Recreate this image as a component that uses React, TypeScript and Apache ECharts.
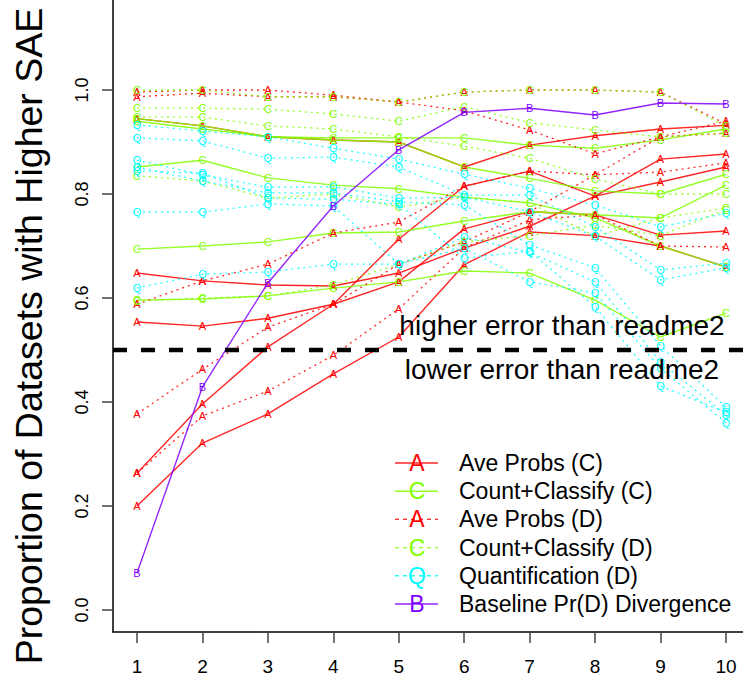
import React, { useEffect, useRef } from "react";
import * as echarts from "echarts";

const X_VALUES = [1, 2, 3, 4, 5, 6, 7, 8, 9, 10];
const Y_TICKS = [0, 0.2, 0.4, 0.6, 0.8, 1.0];

const AVE_PROBS_C = [
  [0.945, 0.931, 0.91, 0.904, 0.9, 0.852, 0.894, 0.912, 0.925, 0.932],
  [0.648, 0.633, 0.625, 0.623, 0.648, 0.696, 0.738, 0.796, 0.867, 0.877],
  [0.554, 0.546, 0.561, 0.588, 0.713, 0.815, 0.844, 0.796, 0.823, 0.852],
  [0.263, 0.396, 0.506, 0.588, 0.631, 0.733, 0.766, 0.76, 0.721, 0.729],
  [0.2, 0.321, 0.377, 0.454, 0.525, 0.664, 0.727, 0.72, 0.7, 0.66],
];
const COUNT_CLASSIFY_C = [
  [0.94, 0.925, 0.91, 0.908, 0.908, 0.908, 0.894, 0.888, 0.904, 0.925],
  [0.945, 0.931, 0.91, 0.904, 0.9, 0.852, 0.83, 0.806, 0.8, 0.838],
  [0.852, 0.865, 0.831, 0.817, 0.81, 0.794, 0.783, 0.754, 0.7, 0.66],
  [0.694, 0.7, 0.708, 0.725, 0.727, 0.748, 0.766, 0.76, 0.754, 0.817],
  [0.596, 0.598, 0.604, 0.619, 0.631, 0.652, 0.648, 0.596, 0.525, 0.571],
];
const AVE_PROBS_D = [
  [0.996, 1.0, 1.0, 0.99, 0.977, 0.996, 1.0, 1.0, 0.996, 0.935],
  [0.987, 0.994, 0.987, 0.987, 0.977, 0.96, 0.923, 0.877, 0.91, 0.94],
  [0.588, 0.633, 0.665, 0.725, 0.746, 0.815, 0.844, 0.837, 0.842, 0.86],
  [0.377, 0.463, 0.544, 0.588, 0.665, 0.708, 0.766, 0.837, 0.91, 0.917],
  [0.263, 0.373, 0.421, 0.49, 0.579, 0.696, 0.75, 0.76, 0.7, 0.698],
];
const COUNT_CLASSIFY_D = [
  [1.0, 1.0, 0.987, 0.987, 0.977, 0.996, 1.0, 1.0, 0.996, 0.93],
  [0.965, 0.965, 0.963, 0.954, 0.94, 0.968, 0.937, 0.923, 0.91, 0.917],
  [0.948, 0.948, 0.931, 0.925, 0.91, 0.892, 0.869, 0.829, 0.8, 0.8],
  [0.835, 0.825, 0.792, 0.8, 0.775, 0.794, 0.783, 0.719, 0.754, 0.773],
  [0.594, 0.6, 0.604, 0.625, 0.665, 0.708, 0.72, 0.74, 0.72, 0.77],
];
const QUANTIFICATION_D = [
  [0.933, 0.921, 0.91, 0.888, 0.867, 0.838, 0.811, 0.779, 0.737, 0.763],
  [0.908, 0.902, 0.869, 0.871, 0.852, 0.798, 0.798, 0.737, 0.654, 0.667],
  [0.865, 0.837, 0.813, 0.814, 0.792, 0.794, 0.766, 0.719, 0.635, 0.658],
  [0.852, 0.825, 0.802, 0.802, 0.785, 0.779, 0.702, 0.658, 0.508, 0.39],
  [0.765, 0.765, 0.781, 0.777, 0.665, 0.717, 0.688, 0.631, 0.477, 0.375],
  [0.619, 0.646, 0.65, 0.665, 0.665, 0.696, 0.631, 0.61, 0.465, 0.36],
  [0.845, 0.84, 0.792, 0.79, 0.78, 0.677, 0.69, 0.583, 0.431, 0.38],
];
const BASELINE = [0.071, 0.429, 0.629, 0.777, 0.885, 0.957, 0.965, 0.952, 0.975, 0.973];
const THRESHOLD = 0.5;

const LEGEND_NAMES = [
  "Ave Probs (C)",
  "Count+Classify (C)",
  "Ave Probs (D)",
  "Count+Classify (D)",
  "Quantification (D)",
  "Baseline Pr(D) Divergence",
];

const RED = "#FF0000";
const GREEN = "#80FF00";
const CYAN = "#00FFFF";
const PURPLE = "#8000FF";
const FONT = "Liberation Sans, Arial, Helvetica, sans-serif";

const X_MIN = 0.6333;
const X_MAX = 10.2605;
const Y_MIN = -0.0423;
const Y_MAX = 1.1731;

function makeSeries(values: number[], color: string, letter: string, dotted: boolean, z: number) {
  return {
    type: "line",
    data: X_VALUES.map((x, i) => [x, values[i]]),
    symbol: "circle",
    symbolSize: 1,
    showSymbol: true,
    itemStyle: { color: "rgba(0,0,0,0)" },
    lineStyle: {
      color,
      width: dotted ? 1.3 : 1.4,
      type: dotted ? [2, 4] : "solid",
      opacity: 0.85,
    },
    label: {
      show: true,
      position: "inside",
      formatter: letter,
      color,
      fontSize: 11,
      fontFamily: FONT,
    },
    emphasis: { disabled: true },
    silent: true,
    z,
  };
}

export default function App() {
  const ref = useRef<HTMLDivElement>(null);

  useEffect(() => {
    if (!ref.current) return;
    const chart = echarts.init(ref.current, null, { renderer: "svg" });

    const series: any[] = [];
    AVE_PROBS_C.forEach((v) => series.push(makeSeries(v, RED, "A", false, 2)));
    COUNT_CLASSIFY_C.forEach((v) => series.push(makeSeries(v, GREEN, "C", false, 2)));
    AVE_PROBS_D.forEach((v) => series.push(makeSeries(v, RED, "A", true, 2)));
    COUNT_CLASSIFY_D.forEach((v) => series.push(makeSeries(v, GREEN, "C", true, 2)));
    QUANTIFICATION_D.forEach((v) => series.push(makeSeries(v, CYAN, "Q", true, 2)));
    series.push(makeSeries(BASELINE, PURPLE, "B", false, 3));
    series.push({
      type: "line",
      data: [
        [X_MIN, THRESHOLD],
        [X_MAX, THRESHOLD],
      ],
      symbol: "none",
      lineStyle: { color: "#000", width: 4.5, type: [14, 14] },
      silent: true,
      z: 4,
    });

    const legendColors = [RED, GREEN, RED, GREEN, CYAN, PURPLE];
    const legendLetters = ["A", "C", "A", "C", "Q", "B"];
    const legendDashed = [false, false, true, true, true, false];
    const legendY0 = 463;
    const legendStep = 28.2;
    const graphics: any[] = [];
    LEGEND_NAMES.forEach((name, i) => {
      const y = legendY0 + i * legendStep;
      graphics.push({
        type: "line",
        shape: { x1: 395, y1: y, x2: 438, y2: y },
        style: {
          stroke: legendColors[i],
          lineWidth: 1.4,
          lineDash: legendDashed[i] ? [4, 4] : null,
          opacity: 0.85,
        },
        z: 10,
      });
      graphics.push({
        type: "text",
        x: 417,
        y: y,
        style: {
          text: legendLetters[i],
          fill: legendColors[i],
          font: `23px ${FONT}`,
          textAlign: "center",
          textVerticalAlign: "middle",
        },
        z: 11,
      });
      graphics.push({
        type: "text",
        x: 459,
        y: y,
        style: {
          text: name,
          fill: "#000",
          font: `23px ${FONT}`,
          textAlign: "left",
          textVerticalAlign: "middle",
        },
        z: 11,
      });
    });
    graphics.push({
      type: "text",
      x: 562,
      y: 325,
      style: {
        text: "higher error than readme2",
        fill: "#000",
        font: `28px ${FONT}`,
        textAlign: "center",
        textVerticalAlign: "middle",
      },
      z: 11,
    });
    graphics.push({
      type: "text",
      x: 562,
      y: 369,
      style: {
        text: "lower error than readme2",
        fill: "#000",
        font: `28px ${FONT}`,
        textAlign: "center",
        textVerticalAlign: "middle",
      },
      z: 11,
    });
    graphics.push({
      type: "text",
      x: 29,
      y: 336,
      rotation: Math.PI / 2,
      style: {
        text: "Proportion of Datasets with Higher SAE",
        fill: "#000",
        font: `37.5px ${FONT}`,
        textAlign: "center",
        textVerticalAlign: "middle",
      },
      z: 11,
    });

    chart.setOption({
      animation: false,
      backgroundColor: "#fff",
      grid: { left: 113, right: 0, top: 0, bottom: 45, containLabel: false },
      xAxis: {
        type: "value",
        min: X_MIN,
        max: X_MAX,
        axisLine: { show: true, onZero: false, lineStyle: { color: "#000", width: 1.5 } },
        axisTick: {
          show: true,
          inside: false,
          length: 11,
          customValues: X_VALUES,
          lineStyle: { color: "#444", width: 1.5 },
        },
        axisLabel: {
          show: true,
          customValues: X_VALUES,
          margin: 25,
          color: "#000",
          fontSize: 19,
          fontFamily: FONT,
          formatter: (v: number) => String(Math.round(v)),
        },
        splitLine: { show: false },
      },
      yAxis: {
        type: "value",
        min: Y_MIN,
        max: Y_MAX,
        axisLine: { show: true, onZero: false, lineStyle: { color: "#000", width: 1.5 } },
        axisTick: {
          show: true,
          inside: false,
          length: 11,
          customValues: Y_TICKS,
          lineStyle: { color: "#444", width: 1.5 },
        },
        axisLabel: {
          show: true,
          customValues: Y_TICKS,
          rotate: 90,
          margin: 22,
          color: "#000",
          fontSize: 18,
          fontFamily: FONT,
          formatter: (v: number) => v.toFixed(1),
        },
        splitLine: { show: false },
      },
      series,
      graphic: graphics,
    });

    return () => chart.dispose();
  }, []);

  return <div ref={ref} style={{ width: 743, height: 677, position: "absolute", left: 0, top: 0 }} />;
}
